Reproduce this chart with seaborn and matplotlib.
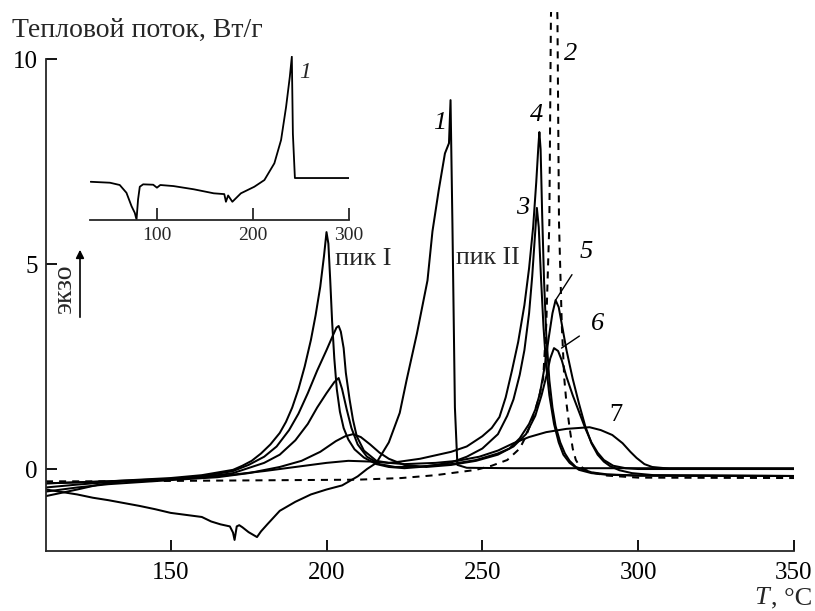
import matplotlib
matplotlib.use("Agg")
import matplotlib.pyplot as plt
import seaborn as sns

# ---------------- data ----------------
T1 = [110, 115, 120, 125, 130, 135, 140, 145, 150, 155, 160, 163, 166, 169, 170, 170.5, 171.2, 172, 173, 175,
      177.7, 179, 181, 185, 190, 195, 200, 205, 210, 213, 216, 220, 223.5, 225.7, 229, 232.4, 234, 236, 238, 239.3,
      239.8, 240.4, 241.2, 242, 245, 260, 300, 350]
V1 = [-0.50, -0.56, -0.62, -0.70, -0.76, -0.83, -0.90, -0.98, -1.07, -1.12, -1.17, -1.28, -1.35, -1.40, -1.55, -1.73, -1.40, -1.37, -1.42, -1.54,
      -1.66, -1.52, -1.35, -1.02, -0.80, -0.62, -0.50, -0.40, -0.18, 0.00, 0.15, 0.65, 1.37, 2.17, 3.30, 4.60, 5.80, 6.80, 7.70, 7.95,
      9.00, 6.00, 1.50, 0.10, 0.03, 0.02, 0.02, 0.02]

T2 = [110, 130, 150, 170, 190, 210, 224, 235, 248, 253, 258, 262, 264, 266, 268, 269.5, 270.5, 271.5, 272.0, 273,
      274.1, 274.6, 275.5, 276.3, 277, 278, 279, 280, 281, 283, 286, 290, 300, 350]
V2 = [-0.30, -0.30, -0.29, -0.28, -0.27, -0.26, -0.22, -0.15, -0.02, 0.08, 0.22, 0.50, 0.80, 1.20, 1.70, 2.20, 3.50, 6.00, 11.0, 14.0,
      11.0, 6.00, 3.50, 2.20, 1.60, 1.00, 0.50, 0.22, 0.10, -0.02, -0.10, -0.16, -0.21, -0.22]

T3 = [110, 130, 150, 160, 170, 173, 176, 179, 182, 185, 187, 189, 191, 193, 195, 196.5, 198, 199.2, 200, 200.6,
      201.2, 201.8, 202.5, 203.3, 204.3, 205.5, 207, 209, 212, 216, 220, 225, 230, 235, 240, 245, 250, 255, 258, 260,
      262, 263.5, 265, 266, 266.8, 267.5, 268.1, 268.8, 269.6, 270.5, 271.5, 273, 274.5, 276, 278, 281, 285, 290, 300, 350]
V3 = [-0.35, -0.30, -0.22, -0.15, -0.02, 0.08, 0.20, 0.38, 0.60, 0.88, 1.15, 1.50, 1.95, 2.50, 3.15, 3.75, 4.45, 5.20, 5.78, 5.50,
      4.60, 3.60, 2.70, 1.95, 1.40, 1.00, 0.72, 0.48, 0.28, 0.12, 0.05, 0.02, 0.05, 0.10, 0.16, 0.30, 0.50, 0.85, 1.30, 1.70,
      2.30, 2.90, 3.80, 4.70, 5.60, 6.37, 5.90, 4.70, 3.50, 2.50, 1.80, 1.10, 0.65, 0.35, 0.15, -0.02, -0.10, -0.14, -0.16, -0.17]

T4 = [110, 130, 150, 160, 170, 175, 180, 184, 188, 191, 194, 197, 200, 202, 203.2, 203.9, 204.6, 205.5, 206.2, 207.4,
      208.5, 209.7, 212, 216, 220, 223.5, 230, 240, 245, 250, 253, 255.5, 257.5, 259.5, 261.5, 263.5, 265, 266.3, 267.3, 268,
      268.3, 268.7, 269.2, 269.8, 270.5, 271.5, 272.5, 273.5, 275, 276.5, 278, 280, 285, 290, 300, 350]
V4 = [-0.35, -0.30, -0.24, -0.18, -0.05, 0.10, 0.30, 0.55, 0.95, 1.35, 1.85, 2.40, 2.90, 3.25, 3.45, 3.49, 3.35, 2.95, 2.35, 1.70,
      1.20, 0.80, 0.45, 0.20, 0.15, 0.18, 0.25, 0.42, 0.55, 0.80, 1.00, 1.27, 1.75, 2.40, 3.10, 4.00, 4.90, 5.90, 7.00, 7.90,
      8.22, 7.80, 6.20, 4.60, 3.30, 2.17, 1.50, 1.05, 0.65, 0.38, 0.20, 0.05, -0.08, -0.13, -0.16, -0.17]

T5 = [110, 120, 130, 150, 160, 170, 180, 185, 190, 194, 197, 200, 202.5, 203.9, 205, 206.5, 208, 210, 213, 217,
      222, 230, 240, 248, 255, 258.7, 262, 265, 267, 268.5, 270, 271.3, 272.5, 273.5, 274.5, 275.7, 277, 279, 281, 283,
      285, 287, 289, 291, 294, 298, 305, 350]
V5 = [-0.45, -0.38, -0.32, -0.25, -0.20, -0.10, 0.15, 0.35, 0.70, 1.10, 1.50, 1.85, 2.12, 2.22, 1.95, 1.45, 1.00, 0.60, 0.30, 0.12,
      0.05, 0.06, 0.12, 0.22, 0.38, 0.50, 0.75, 1.10, 1.45, 1.85, 2.50, 3.20, 3.80, 4.12, 3.95, 3.45, 2.90, 2.20, 1.60, 1.05,
      0.63, 0.35, 0.18, 0.07, -0.03, -0.10, -0.15, -0.17]

T6 = [110, 120, 130, 150, 165, 175, 185, 192, 198, 203, 206, 208.5, 211, 214, 217, 220, 225, 232, 240, 248,
      255, 260, 264, 267, 269, 270.5, 271.8, 273, 274.3, 275.5, 277, 279, 281, 283, 285, 287, 289, 292, 296, 300, 350]
V6 = [-0.55, -0.45, -0.37, -0.27, -0.20, -0.10, 0.05, 0.20, 0.42, 0.68, 0.80, 0.85, 0.78, 0.60, 0.40, 0.25, 0.10, 0.05, 0.10, 0.20,
      0.35, 0.55, 0.85, 1.30, 1.80, 2.25, 2.70, 2.95, 2.88, 2.65, 2.25, 1.80, 1.40, 1.00, 0.65, 0.40, 0.22, 0.08, 0.02, 0.00, 0.00]

T7 = [110, 115, 120, 127, 135, 150, 165, 180, 190, 200, 207, 215, 225, 235, 242, 249, 255, 260, 265, 270.5,
      277, 284.4, 288, 291.7, 295, 297.5, 299.5, 302, 304.5, 310, 350]
V7 = [-0.66, -0.58, -0.50, -0.38, -0.30, -0.25, -0.18, -0.05, 0.05, 0.15, 0.20, 0.18, 0.12, 0.15, 0.20, 0.30, 0.45, 0.63, 0.78, 0.90,
      0.98, 1.02, 0.95, 0.83, 0.63, 0.42, 0.27, 0.12, 0.05, 0.01, 0.00]

# inset: curve 1 over the full temperature range
T_INS = [30.7, 50.8, 61, 68, 73.3, 76.7, 78.5, 80.1, 81.9, 85.4, 95.9, 99.8, 103.3, 117, 138.2, 159, 170, 171.7, 174, 178.4,
         187.3, 201.3, 211.8, 222.2, 229.2, 234.4, 238.3, 240.4, 241.5, 243.6, 300]
V_INS = [-0.28, -0.35, -0.52, -1.1, -2.1, -2.6, -3.1, -1.6, -0.65, -0.47, -0.5, -0.72, -0.52, -0.6, -0.84, -1.14, -1.2, -1.77, -1.3, -1.77,
         -1.14, -0.65, -0.15, 1.1, 2.84, 5.3, 7.55, 9.05, 3.3, 0.0, 0.0]

X_TICKS = [150, 200, 250, 300, 350]
Y_TICKS = [0, 5, 10]
INSET_TICKS = [100, 200, 300]
CURVE_LABELS = ["1", "2", "3", "4", "5", "6", "7"]

# ---------------- style ----------------
sns.set_style("ticks")
plt.rcParams["font.family"] = ["Liberation Serif", "DejaVu Serif"]
plt.rcParams["axes.linewidth"] = 1.3

W, H = 815, 611
fig = plt.figure(figsize=(W / 100, H / 100), dpi=100)


def fx(px):
    return px / W


def fy(py):
    return 1 - py / H


ax = fig.add_axes([fx(46), fy(551), fx(794) - fx(46), fy(12) - fy(551)])
ax.set_xlim(110, 350)
ax.set_ylim(-2.0, 11.15)

lw = 1.45
solid = [(T1, V1), (T3, V3), (T4, V4), (T5, V5), (T6, V6), (T7, V7)]
for tt, vv in solid:
    sns.lineplot(x=tt, y=vv, ax=ax, color="black", lw=lw, sort=False, estimator=None)
sns.lineplot(x=T2, y=V2, ax=ax, color="black", lw=lw, sort=False, estimator=None,
             linestyle=(0, (3.5, 3.0)))

for s in ["top", "right"]:
    ax.spines[s].set_visible(False)
ax.spines["left"].set_bounds(-2.0, 10)
ax.set_xticks(X_TICKS)
ax.set_yticks(Y_TICKS)
ax.set_xticklabels([str(v) for v in X_TICKS])
ax.set_yticklabels([str(v) for v in Y_TICKS])
ax.tick_params(axis="both", direction="in", length=8, width=1.3, labelsize=18, colors="black")
ax.tick_params(axis="x", pad=8)
ax.tick_params(axis="y", pad=6)
ax.set_xlabel("")
ax.set_ylabel("")

# curve labels
lab_kw = dict(fontsize=19, style="italic", ha="center", va="center", color="black")
ax.text(236.3, 8.44, CURVE_LABELS[0], **lab_kw)
ax.text(278.3, 10.12, CURVE_LABELS[1], **lab_kw)
ax.text(262.9, 6.37, CURVE_LABELS[2], **lab_kw)
ax.text(267.4, 8.63, CURVE_LABELS[3], **lab_kw)
ax.annotate(CURVE_LABELS[4], xy=(273.5, 4.12), xytext=(283.4, 5.29), textcoords="data",
            arrowprops=dict(arrowstyle="-", color="black", lw=1.0, shrinkA=7, shrinkB=0), **lab_kw)
ax.annotate(CURVE_LABELS[5], xy=(275.4, 2.95), xytext=(286.9, 3.54), textcoords="data",
            arrowprops=dict(arrowstyle="-", color="black", lw=1.0, shrinkA=7, shrinkB=0), **lab_kw)
ax.text(293.0, 1.32, CURVE_LABELS[6], fontsize=19, ha="center", va="center", color="black")

ax.text(211.8, 5.12, "пик I", fontsize=19, ha="center", va="center")
ax.text(251.9, 5.15, "пик II", fontsize=18.5, ha="center", va="center")

# axis captions
fig.text(fx(12), fy(37), "Тепловой поток, Вт/г", fontsize=20, ha="left", va="baseline")
fig.text(fx(754), fy(598), "T", fontsize=19, style="italic", ha="left", va="center")
fig.text(fx(771), fy(598), ", °C", fontsize=19, ha="left", va="center")

# exo arrow
fig.text(fx(65), fy(289), "экзо", fontsize=20, rotation=90, ha="center", va="center")
fig.add_artist(matplotlib.patches.FancyArrowPatch((fx(80), fy(320)), (fx(80), fy(247)),
                                                  transform=fig.transFigure, arrowstyle="-|>",
                                                  mutation_scale=12, color="black", lw=1.2))

# inset
axi = fig.add_axes([fx(90), fy(220), fx(349) - fx(90), fy(56) - fy(220)])
axi.set_xlim(30, 300)
axi.set_ylim(-3.13, 9.1)
sns.lineplot(x=T_INS, y=V_INS, ax=axi, color="black", lw=1.3, sort=False, estimator=None)
for s in ["top", "right", "left"]:
    axi.spines[s].set_visible(False)
axi.patch.set_alpha(0)
axi.set_yticks([])
axi.set_xticks(INSET_TICKS)
axi.set_xticklabels([str(v) for v in INSET_TICKS])
axi.tick_params(axis="x", direction="in", length=9, width=1.3, labelsize=14, pad=5)
axi.set_xlabel("")
axi.set_ylabel("")
axi.text(254, 7.9, "1", fontsize=17, style="italic", ha="center", va="center")

fig.savefig("out.png", dpi=100)
